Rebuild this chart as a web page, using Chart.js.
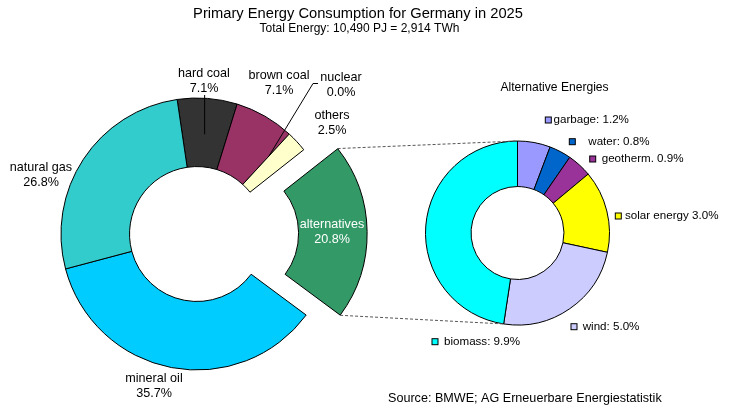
<!DOCTYPE html>
<html><head><meta charset="utf-8">
<script src="https://cdn.jsdelivr.net/npm/chart.js@4"></script>
<style>
html,body{margin:0;padding:0;background:#fff;width:730px;height:417px;overflow:hidden}
canvas{position:absolute;left:0;top:0}
</style></head><body>
<canvas id="main" width="730" height="417"></canvas>
<canvas id="alt" width="730" height="417"></canvas>
<script>
// ---- data ----
const titleText = 'Primary Energy Consumption for Germany in 2025';
const subtitleText = 'Total Energy: 10,490 PJ = 2,914 TWh';
const sourceText = 'Source: BMWE; AG Erneuerbare Energiestatistik';

const mainLabels = ['hard coal', 'brown coal', 'nuclear', 'others', 'alternatives', 'mineral oil', 'natural gas'];
const mainValues = [7.1, 7.1, 0.0, 2.5, 20.8, 35.7, 26.8];
const mainColors = ['#333333', '#993366', '#cc3399', '#ffffcc', '#339966', '#00ccff', '#33cccc'];

const altTitle = 'Alternative Energies';
const altLabels = ['garbage', 'water', 'geotherm.', 'solar energy', 'wind', 'biomass'];
const altValues = [1.2, 0.8, 0.9, 3.0, 5.0, 9.9];
const altColors = ['#9999ff', '#0066cc', '#993399', '#ffff00', '#ccccff', '#00ffff'];
const altSeparators = [': ', ': ', ' ', ' ', ': ', ': '];

// ---- layout (text positions only) ----
const FONT = '"Liberation Sans", Arial, Helvetica, sans-serif';
const mainLabelPos = [[204, 74], [279, 76], [341, 78], [332, 116], [332, 225], [154, 379], [41, 168]];
const altLabelPos = [ // [square x, square y, text x]
  [548.3, 120, 553.5], [572.3, 141.7, 588.3], [592.7, 159, 601.7],
  [618.3, 216, 625], [574, 326.7, 582.7], [435, 341.7, 444]
];

const mainDecor = {
  id: 'mainDecor',
  afterDraw(chart) {
    const ctx = chart.ctx;
    const arcs = chart.getDatasetMeta(0).data;
    const cx = arcs[0].x, cy = arcs[0].y;
    ctx.save();
    ctx.fillStyle = '#000';
    ctx.textAlign = 'center';
    ctx.textBaseline = 'middle';
    ctx.font = '14.7px ' + FONT;
    ctx.fillText(titleText, 358, 14);
    ctx.font = '12px ' + FONT;
    ctx.fillText(subtitleText, 359.5, 29);
    ctx.font = '12.6px ' + FONT;
    ctx.textAlign = 'left';
    ctx.fillText(sourceText, 388, 399);

    ctx.textAlign = 'center';
    ctx.font = '12.6px ' + FONT;
    mainLabelPos.forEach((p, i) => {
      ctx.fillStyle = i === 4 ? '#ffffff' : '#000000';
      ctx.fillText(mainLabels[i], p[0], p[1]);
      ctx.fillText(mainValues[i].toFixed(1) + '%', p[0], p[1] + 14.5);
    });

    // leader lines
    ctx.strokeStyle = '#000';
    ctx.lineWidth = 1;
    const hc = arcs[0];
    const hm = (hc.startAngle + hc.endAngle) / 2;
    const hx = cx + Math.cos(hm) * 100, hy = cy + Math.sin(hm) * 100;
    ctx.beginPath();
    ctx.moveTo(hx, 95);
    ctx.lineTo(hx, hy);
    ctx.stroke();

    const nu = arcs[2];
    const na = nu.startAngle;
    ctx.beginPath();
    ctx.moveTo(318, 83.5);
    ctx.lineTo(313, 83.5);
    ctx.lineTo(cx + Math.cos(na) * 106, cy + Math.sin(na) * 106);
    ctx.stroke();
    ctx.restore();
  }
};

const mainChart = new Chart(document.getElementById('main'), {
  type: 'doughnut',
  data: {
    labels: mainLabels,
    datasets: [{
      data: mainValues,
      backgroundColor: mainColors,
      borderColor: '#000000',
      borderWidth: 1,
      offset: [0, 0, 0, 0, 132, 0, 0]
    }]
  },
  options: {
    responsive: false,
    animation: false,
    events: [],
    rotation: -8.4,
    radius: 136,
    cutout: '49.6%',
    layout: { padding: { left: 0, right: 336, top: 51, bottom: 0 } },
    plugins: { legend: { display: false }, tooltip: { enabled: false } }
  },
  plugins: [mainDecor]
});

const altDecor = {
  id: 'altDecor',
  afterDraw(chart) {
    const ctx = chart.ctx;
    ctx.save();
    ctx.fillStyle = '#000';
    ctx.textBaseline = 'middle';
    ctx.textAlign = 'center';
    ctx.font = '12.1px ' + FONT;
    ctx.fillText(altTitle, 554.5, 87.3);

    ctx.font = '11.6px ' + FONT;
    ctx.textAlign = 'left';
    altLabelPos.forEach((p, i) => {
      ctx.fillStyle = altColors[i];
      ctx.fillRect(p[0] - 3, p[1] - 3, 6, 6);
      ctx.strokeStyle = '#000';
      ctx.lineWidth = 1;
      ctx.strokeRect(p[0] - 3, p[1] - 3, 6, 6);
      ctx.fillStyle = '#000';
      ctx.fillText(altLabels[i] + altSeparators[i] + altValues[i].toFixed(1) + '%', p[2], p[1]);
    });

    // connector lines from the exploded "alternatives" slice to the biomass edges
    const m = mainChart.getDatasetMeta(0).data[4];
    const t = (m.options.offset || 0) / 4;
    const circ = m.endAngle - m.startAngle;
    const rOff = t * (1 - Math.sin(Math.min(Math.PI, circ)));
    const mid = (m.startAngle + m.endAngle) / 2;
    const ox = m.x + Math.cos(mid) * t, oy = m.y + Math.sin(mid) * t;
    const R = m.outerRadius + rOff;
    const b = chart.getDatasetMeta(0).data[5];
    ctx.strokeStyle = '#555';
    ctx.lineWidth = 1;
    ctx.setLineDash([3, 2]);
    ctx.beginPath();
    ctx.moveTo(ox + Math.cos(m.startAngle) * R, oy + Math.sin(m.startAngle) * R);
    ctx.lineTo(b.x + Math.cos(b.endAngle) * b.outerRadius, b.y + Math.sin(b.endAngle) * b.outerRadius);
    ctx.moveTo(ox + Math.cos(m.endAngle) * R, oy + Math.sin(m.endAngle) * R);
    ctx.lineTo(b.x + Math.cos(b.startAngle) * b.outerRadius, b.y + Math.sin(b.startAngle) * b.outerRadius);
    ctx.stroke();
    ctx.restore();
  }
};

new Chart(document.getElementById('alt'), {
  type: 'doughnut',
  data: {
    labels: altLabels,
    datasets: [{
      data: altValues,
      backgroundColor: altColors,
      borderColor: '#000000',
      borderWidth: 1
    }]
  },
  options: {
    responsive: false,
    animation: false,
    events: [],
    rotation: 0,
    radius: 92,
    cutout: '50.5%',
    layout: { padding: { left: 305, right: 0, top: 49, bottom: 0 } },
    plugins: { legend: { display: false }, tooltip: { enabled: false } }
  },
  plugins: [altDecor]
});
</script>
</body></html>
